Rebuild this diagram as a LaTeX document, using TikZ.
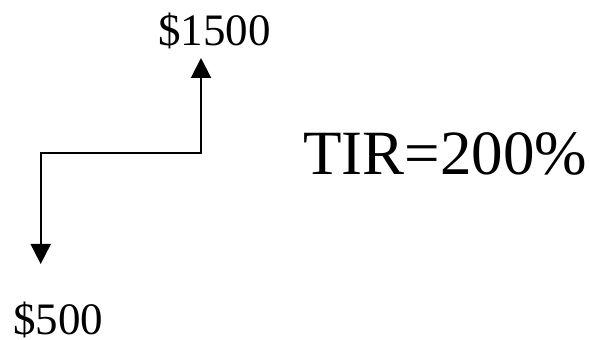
\documentclass[tikz,border=0pt]{standalone}
\usepackage{fontspec}
\setmainfont{Liberation Serif}
\usetikzlibrary{positioning,arrows.meta}

\begin{document}
\begin{tikzpicture}[
  x=1pt,y=1pt,
  every node/.style={inner sep=0pt,anchor=base west},
  amt/.style={font=\fontsize{45}{54}\selectfont},
  big/.style={font=\fontsize{63}{74}\selectfont},
  arr/.style={{Triangle[length=20pt,width=20pt]}-{Triangle[length=20pt,width=20pt]},line width=2pt}
]
  \useasboundingbox (0,0) rectangle (590,340);
  \node[amt] (hi) at (158,294) {\$1500};
  \node[amt] (lo) at (13,5) {\$500};
  \node[big] (tir) at (303,165) {TIR=200\%};
  \coordinate (dn) at (40.7,76);
  \coordinate (up) at (201,282);
  \coordinate (k) at (40.7,187);
  \draw[arr] (dn)--(k)-|(up);
\end{tikzpicture}
\end{document}
